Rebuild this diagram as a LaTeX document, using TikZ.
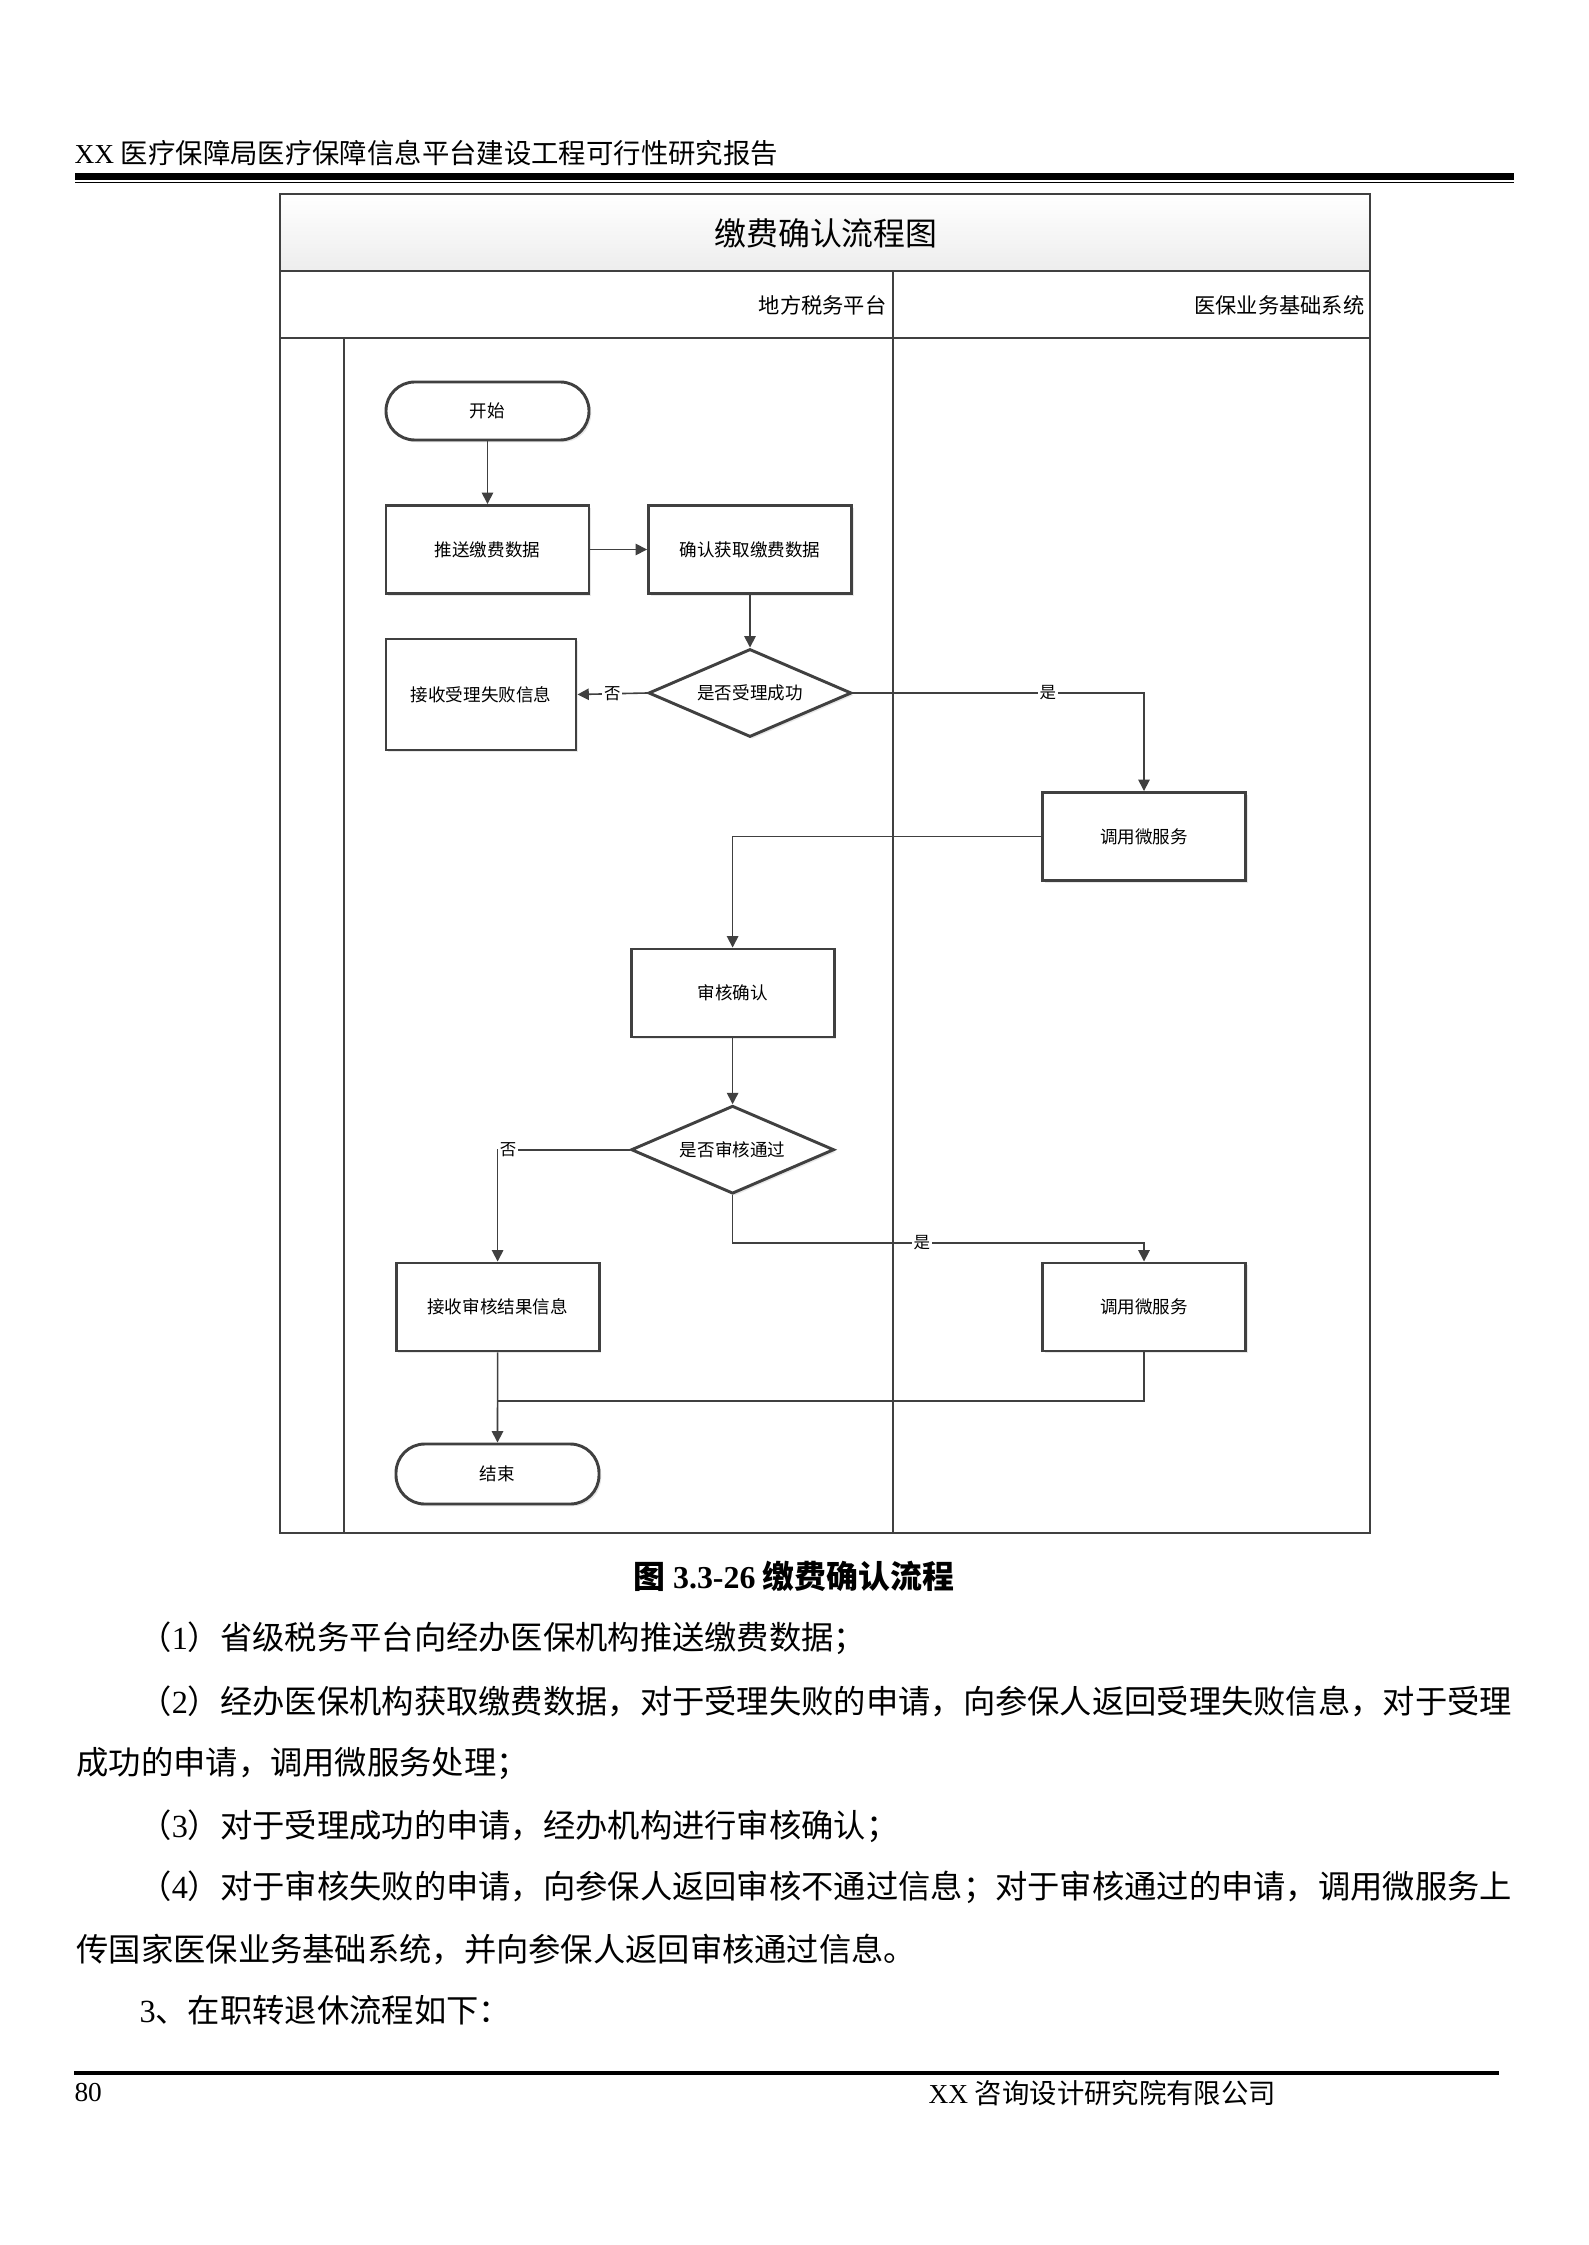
\documentclass[tikz,border=0pt]{standalone}
\usepackage{fontspec}
\setmainfont{Noto Sans CJK SC}
\newfontfamily\tnr{Liberation Serif}
\usepackage{xcolor}
\usetikzlibrary{arrows.meta,shapes.geometric,shadows}
\definecolor{edge}{HTML}{404040}
\newlength\pxu
\setlength\pxu{0.13224mm}

\begin{document}
\begin{tikzpicture}[x=0.13224mm, y=-0.13224mm, >={Triangle[length=1.5mm,width=1.5mm]},
  box/.style={draw=edge, line width=1.1pt, fill=white, minimum width=203\pxu, minimum height=88\pxu,
    font=\fontsize{6.6}{8}\selectfont,
    drop shadow={shadow xshift=0.3mm, shadow yshift=-0.3mm, opacity=0.18}},
  term/.style={box, rounded corners=3.8mm, minimum height=58\pxu},
  decide/.style={box, diamond, aspect=2.3, inner sep=0pt},
  flow/.style={->, draw=edge, line width=0.6pt},
  link/.style={draw=edge, line width=0.6pt},
  yn/.style={fill=white, inner sep=0.6pt, font=\fontsize{6.2}{7}\selectfont},
  body/.style={anchor=west, inner sep=0pt, font=\fontsize{12.15}{14}\selectfont}]
  \fill[white] (0,0) rectangle (1588,2245);
  % page header
  \node[anchor=west, inner sep=0pt, font=\fontsize{10.3}{12}\selectfont] (head) at (74,153)
        {{\tnr XX }医疗保障局医疗保障信息平台建设工程可行性研究报告};
  \fill (75,173) rectangle (1514,180);
  \fill (75,182) rectangle (1514,183.5);
  % swimlane frame
  \shade[top color=white, bottom color=gray!14] (280,194) rectangle (1370,271);
  \draw[edge, line width=1pt] (280,194) rectangle (1370,1533);
  \draw[edge, line width=1pt] (280,271) -- (1370,271);
  \draw[edge, line width=1pt] (280,338) -- (1370,338);
  \draw[edge, line width=1pt] (893,271) -- (893,1533);
  \draw[edge, line width=0.9pt] (344,338) -- (344,1533);
  \node[font=\fontsize{12}{14}\selectfont] (title) at (826,233) {缴费确认流程图};
  \node[anchor=east, inner sep=0pt, font=\fontsize{8}{10}\selectfont] (lane1) at (887,305) {地方税务平台};
  \node[anchor=east, inner sep=0pt, font=\fontsize{8}{10}\selectfont] (lane2) at (1365,305) {医保业务基础系统};
  % flow nodes
  \node[term] (start) at (487.5,411) {开始};
  \node[box] (push) at (487.5,549.5) {推送缴费数据};
  \node[box] (confirm) at (750,549.5) {确认获取缴费数据};
  \node[decide] (chk1) at (750,693) {是否受理成功};
  \node[box, minimum width=190\pxu, minimum height=111\pxu] (fail) at (481,694.5) {接收受理失败信息};
  \node[box] (svc1) at (1144,836.5) {调用微服务};
  \node[box] (audit) at (732.6,993) {审核确认};
  \node[decide] (chk2) at (732.6,1149.7) {是否审核通过};
  \node[box] (recv) at (497.6,1307) {接收审核结果信息};
  \node[box] (svc2) at (1144,1307) {调用微服务};
  \node[term, minimum height=60\pxu] (finish) at (497.5,1474) {结束};
  \coordinate (bend) at (732.6,1243);
  \coordinate (join) at (497.6,1401);
  % connectors
  \draw[flow] (start) -- (push);
  \draw[flow] (push) -- (confirm);
  \draw[flow] (confirm) -- (chk1);
  \draw[flow] (chk1.west) -- node[yn] {否} (fail.east);
  \draw[flow] (chk1.east) -| node[yn, pos=0.335] {是} (svc1.north);
  \draw[flow] (svc1.west) -| (audit.north);
  \draw[flow] (audit) -- (chk2);
  \draw[flow] (chk2.west) -| node[yn, pos=0.46] {否} (recv.north);
  \draw[flow] (chk2.south) -- (bend) -| node[yn, pos=0.23] {是} (svc2.north);
  \draw[flow] (recv.south) -- (finish.north);
  \draw[link] (svc2.south) |- (join);
  % caption and body text
  \node[font=\fontsize{12}{14}\selectfont\bfseries] (cap) at (794,1576) {图 {\tnr\bfseries 3.3-26} 缴费确认流程};
  \node[body] (p1) at (139,1638) {（{\tnr 1}）省级税务平台向经办医保机构推送缴费数据；};
  \node[body] (p2) at (139,1701) {（{\tnr 2}）经办医保机构获取缴费数据，对于受理失败的申请，向参保人返回受理失败信息，对于受理};
  \node[body] (p2b) at (76,1763) {成功的申请，调用微服务处理；};
  \node[body] (p3) at (139,1826) {（{\tnr 3}）对于受理成功的申请，经办机构进行审核确认；};
  \node[body] (p4) at (139,1887) {（{\tnr 4}）对于审核失败的申请，向参保人返回审核不通过信息；对于审核通过的申请，调用微服务上};
  \node[body] (p4b) at (76,1949) {传国家医保业务基础系统，并向参保人返回审核通过信息。};
  \node[body] (p5) at (139,2010) {{\tnr 3}、在职转退休流程如下：};
  % page footer
  \fill (74,2071) rectangle (1499,2075);
  \node[anchor=west, inner sep=0pt, font=\fontsize{10.3}{12}\selectfont\tnr] (pageno) at (74,2093) {80};
  \node[anchor=west, inner sep=0pt, font=\fontsize{10.3}{12}\selectfont] (org) at (928,2093) {{\tnr XX }咨询设计研究院有限公司};
\end{tikzpicture}
\end{document}
